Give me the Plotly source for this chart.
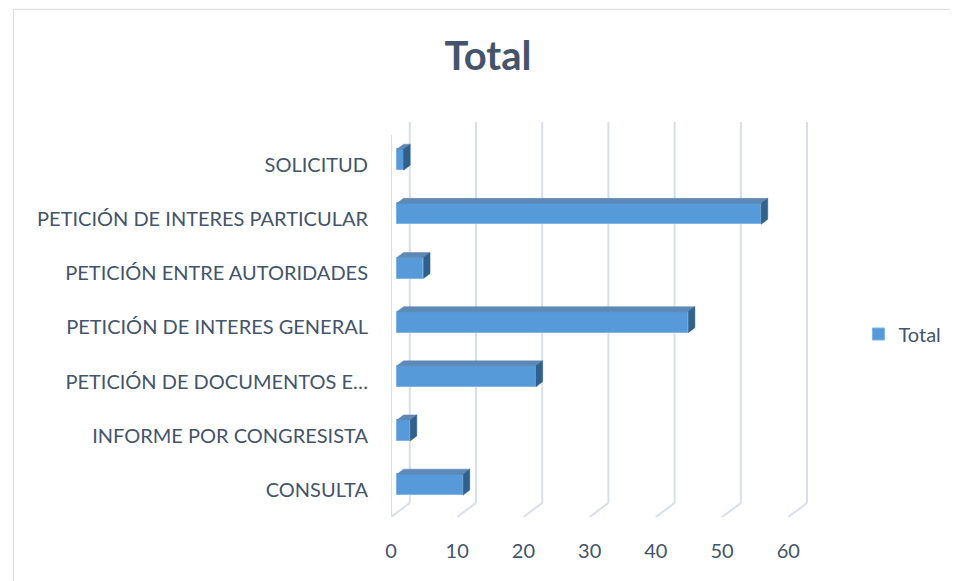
import plotly.graph_objects as go

# ---- data (bottom -> top, as plotted) ----
categories = [
    "CONSULTA",
    "INFORME POR CONGRESISTA",
    "PETICIÓN DE DOCUMENTOS E…",
    "PETICIÓN DE INTERES GENERAL",
    "PETICIÓN ENTRE AUTORIDADES",
    "PETICIÓN DE INTERES PARTICULAR",
    "SOLICITUD",
]
values = [10, 2, 21, 44, 4, 55, 1]
x_ticks = [0, 10, 20, 30, 40, 50, 60]
series_name = "Total"

# ---- pseudo-3D geometry (axis units) ----
PX_X = 6.7      # px per x unit
PX_Y = 54.17    # px per category
wall_dx = 19 / PX_X
wall_dy = 14 / PX_Y
bar_base = 6 / PX_X
bar_dy = 5.3 / PX_Y
bar_h = 21 / PX_Y
depth_dx = 6.7 / PX_X
depth_dy = 5 / PX_Y

TXT = "#44546A"
GRID = "#D9DEE7"
FONT = "Lato"
OFF = 8  # page body margin

ypos = list(range(len(categories)))
yc = [i + bar_dy for i in ypos]

fig = go.Figure()

# top faces
tx, ty = [], []
for v, c in zip(values, yc):
    x0, x1 = bar_base, bar_base + v
    y1 = c + bar_h / 2
    tx += [x0, x1, x1 + depth_dx, x0 + depth_dx, x0, None]
    ty += [y1, y1, y1 + depth_dy, y1 + depth_dy, y1, None]
fig.add_trace(go.Scatter(x=tx, y=ty, fill="toself", mode="lines",
                         line=dict(color="#5A86B3", width=0.5),
                         fillcolor="#5E89B6", showlegend=False, hoverinfo="skip"))
# side faces
sx, sy = [], []
for v, c in zip(values, yc):
    x1 = bar_base + v
    y0, y1 = c - bar_h / 2, c + bar_h / 2
    sx += [x1, x1 + depth_dx, x1 + depth_dx, x1, x1, None]
    sy += [y0, y0 + depth_dy, y1 + depth_dy, y1, y0, None]
fig.add_trace(go.Scatter(x=sx, y=sy, fill="toself", mode="lines",
                         line=dict(color="#2E5B86", width=0.5),
                         fillcolor="#30608C", showlegend=False, hoverinfo="skip"))
# front faces
fig.add_trace(go.Bar(
    y=yc, x=values, base=bar_base, orientation="h", width=bar_h,
    name=series_name,
    marker=dict(color="#579AD9", line=dict(color="#7FB3E6", width=1)),
))

shapes = []
# left wall front edge
shapes.append(dict(type="line", xref="x", yref="y", x0=0, x1=0, y0=-0.5, y1=6.554,
                   line=dict(color=GRID, width=2), layer="below"))
for t in x_ticks:
    shapes.append(dict(type="line", xref="x", yref="y", x0=t + wall_dx, x1=t + wall_dx,
                       y0=-0.5 + wall_dy, y1=6.794, line=dict(color=GRID, width=2), layer="below"))
    shapes.append(dict(type="line", xref="x", yref="y", x0=t, x1=t + wall_dx,
                       y0=-0.5, y1=-0.5 + wall_dy, line=dict(color=GRID, width=2), layer="below"))
# chart border
shapes.append(dict(type="rect", xref="paper", yref="paper",
                   x0=(8.5 - 391) / 425.45, x1=1.6, y0=-0.5, y1=(517 - 9.3) / 395,
                   line=dict(color="#D9D9D9", width=1), layer="below"))

W, H = 958 - OFF, 581 - OFF
fig.update_layout(
    width=W, height=H,
    margin=dict(l=391 - OFF, r=W - (391 - OFF) - 425, t=122 - OFF, b=64, pad=0),
    paper_bgcolor="white", plot_bgcolor="white",
    title=dict(text="<b>Total</b>", x=(488 - OFF) / W, xref="container", xanchor="center",
               y=1 - (56 - OFF) / H, yref="container", yanchor="middle",
               font=dict(family=FONT, size=40, color=TXT)),
    xaxis=dict(range=[0, 425 / PX_X], tickvals=x_ticks, showgrid=False, zeroline=False,
               showline=False, ticks="", ticklabelstandoff=20,
               tickfont=dict(family=FONT, size=20, color=TXT)),
    yaxis=dict(range=[-0.5, 6.794], tickvals=ypos, ticktext=categories, showgrid=False,
               zeroline=False, showline=False, ticks="", ticklabelstandoff=22,
               tickfont=dict(family=FONT, size=20, color=TXT)),
    showlegend=True,
    legend=dict(x=(864 - 391) / 425, xanchor="left", y=(517 - 334) / 395, yanchor="middle",
                font=dict(family=FONT, size=20, color=TXT), itemwidth=30),
    shapes=shapes,
    bargap=0,
)

fig.write_html("out.html")
